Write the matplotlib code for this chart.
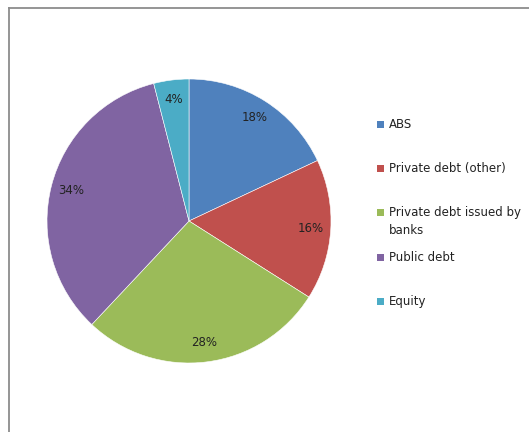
import matplotlib
matplotlib.use("Agg")
import matplotlib.pyplot as plt
from matplotlib.lines import Line2D
from matplotlib.patches import Rectangle

categories = ["ABS", "Private debt (other)", "Private debt issued by\nbanks",
              "Public debt", "Equity"]
shares = [18, 16, 28, 34, 4]
colors = ["#4F81BD", "#C0504D", "#9BBB59", "#8064A2", "#4BACC6"]

W, H = 529, 432
fig = plt.figure(figsize=(W / 100, H / 100), dpi=100)


def px(x, y):
    # pixel coords (top-left origin) -> figure fraction
    return x / W, 1 - y / H


# chart-area border (left and top edges only show)
fig.add_artist(Line2D([8.5 / W, 8.5 / W], [0, 1 - 7.5 / H],
                      transform=fig.transFigure, color="#8c8c8c", lw=1.3))
fig.add_artist(Line2D([8.5 / W, 1], [1 - 7.5 / H, 1 - 7.5 / H],
                      transform=fig.transFigure, color="#8c8c8c", lw=1.3))

cx, cy, r = 189, 221, 142
ax = fig.add_axes([(cx - r) / W, 1 - (cy + r) / H, 2 * r / W, 2 * r / H])
wedges, texts, autotexts = ax.pie(
    shares, colors=colors, startangle=90, counterclock=False,
    autopct="%d%%", pctdistance=0.86, radius=1,
    wedgeprops=dict(edgecolor="white", linewidth=0.4),
    textprops=dict(fontsize=8.5, color="#222222"))
ax.set_xlim(-1, 1)
ax.set_ylim(-1, 1)
ax.axis("off")

# legend drawn by hand so the wrapped entry lines up like the rest
legend_y = [124, 168, 212, 257, 301]
for label, color, y in zip(categories, colors, legend_y):
    x0, y0 = px(377, y + 3.5)
    fig.add_artist(Rectangle((x0, y0), 7 / W, 7 / H, transform=fig.transFigure,
                             facecolor=color, edgecolor="none"))
    tx, ty = px(389, y - 6)
    fig.text(tx, ty, label, fontsize=8.5, color="#222222", va="top",
             ha="left", linespacing=1.45)

fig.savefig("out.png", dpi=100)
